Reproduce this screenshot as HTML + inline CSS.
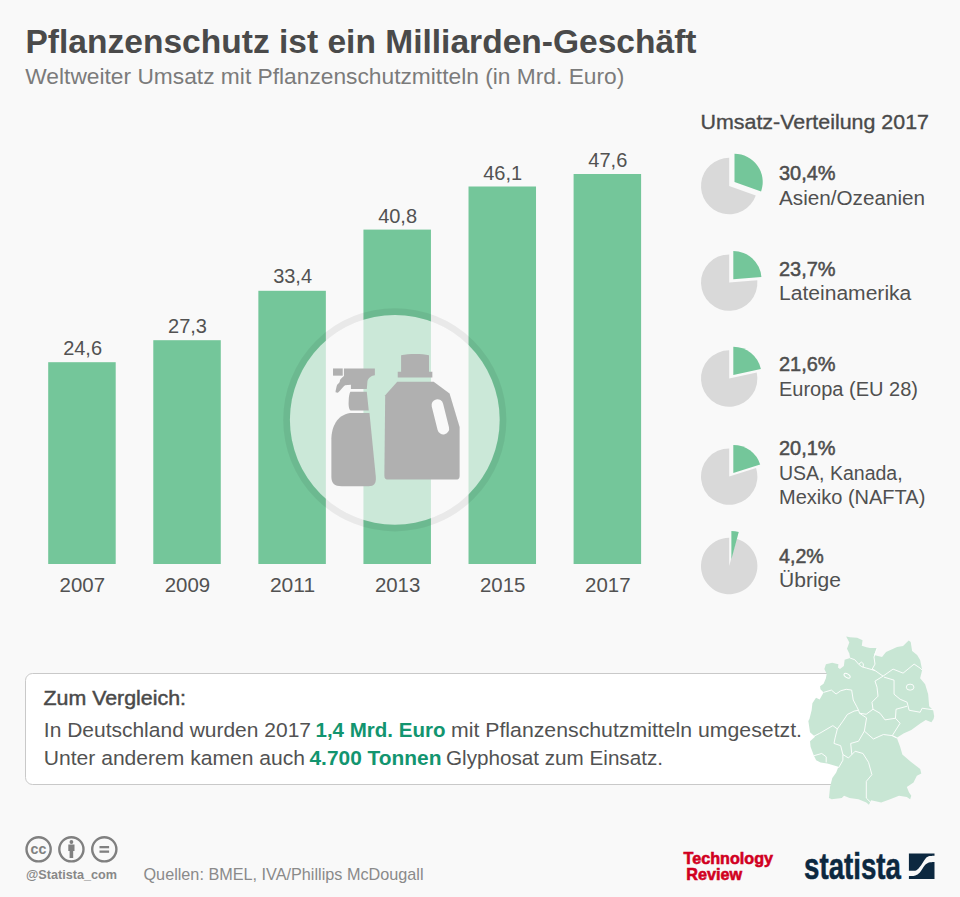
<!DOCTYPE html>
<html><head><meta charset="utf-8">
<style>
html,body{margin:0;padding:0;background:#f9f9f9;}
body{width:960px;height:897px;overflow:hidden;}
svg{display:block;font-family:"Liberation Sans",sans-serif;}
</style></head>
<body>
<svg width="960" height="897" viewBox="0 0 960 897">
<rect x="0" y="0" width="960" height="897" fill="#f9f9f9"/>
<text x="25.5" y="52.9" font-size="32.3" font-weight="bold" fill="#4a4a4a" textLength="671" lengthAdjust="spacingAndGlyphs">Pflanzenschutz ist ein Milliarden-Geschäft</text>
<text x="25.3" y="84" font-size="22.3" fill="#7b7b7b" textLength="599" lengthAdjust="spacingAndGlyphs">Weltweiter Umsatz mit Pflanzenschutzmitteln (in Mrd. Euro)</text>
<g fill="#74c69a">
<rect x="48.20" y="362.2" width="67.5" height="201.8"/>
<rect x="153.28" y="340.2" width="67.5" height="223.8"/>
<rect x="258.36" y="290.8" width="67.5" height="273.2"/>
<rect x="363.44" y="229.6" width="67.5" height="334.4"/>
<rect x="468.52" y="186.5" width="67.5" height="377.5"/>
<rect x="573.60" y="174" width="67.5" height="390.0"/>
</g>
<g font-size="20" fill="#525252" text-anchor="middle">
<text x="82.6" y="355">24,6</text>
<text x="187.5" y="333">27,3</text>
<text x="292.6" y="282.7">33,4</text>
<text x="397.6" y="222.7">40,8</text>
<text x="502.7" y="179.6">46,1</text>
<text x="607.8" y="166.8">47,6</text>
</g>
<g font-size="20" fill="#525252" text-anchor="middle">
<text x="82.3" y="592.3" textLength="45.4" lengthAdjust="spacingAndGlyphs">2007</text>
<text x="187.4" y="592.3" textLength="45.4" lengthAdjust="spacingAndGlyphs">2009</text>
<text x="292.5" y="592.3" textLength="45.2" lengthAdjust="spacingAndGlyphs">2011</text>
<text x="397.6" y="592.3" textLength="45.4" lengthAdjust="spacingAndGlyphs">2013</text>
<text x="502.7" y="592.3" textLength="45.4" lengthAdjust="spacingAndGlyphs">2015</text>
<text x="607.8" y="592.3" textLength="45.4" lengthAdjust="spacingAndGlyphs">2017</text>
</g>
<circle cx="394.8" cy="419.8" r="104.9" fill="rgba(249,249,249,0.66)"/>
<circle cx="394.8" cy="419.8" r="108.25" fill="none" stroke="rgba(0,0,0,0.062)" stroke-width="6.7"/>

<g transform="translate(325,345) scale(0.16722)" fill="#b0b0b0">
 <rect x="48" y="140.3" width="58" height="43"/>
 <path d="M113.2,140.3 L298.2,140.3 L298.2,181.3 C280,184 260,195 254,216 L250,263 L155,263 L155,238 L120,240 C105,250 98,265 77,285 L63,283 C64,270 66,262 70,245 L74,236 C80,232 86,226 88,220 C89,212 90,205 94,203 L106,191 L113.2,186 Z"/>
 <path d="M151.6,279.6 L249.9,279.6 L261.6,391.3 L153.2,391.3 C143,385 140,360 141.6,336 C142,310 146,290 151.6,279.6 Z"/>
 <path d="M150,406.3 L266,406.3 L304,790 C306,830 295,845 260,845 L100,845 C55,845 40,830 38,790 L38,560 C40,490 70,420 150,406.3 Z"/>
</g>
<mask id="jugmask" maskUnits="userSpaceOnUse" x="0" y="0" width="960" height="897">
 <rect x="0" y="0" width="960" height="897" fill="#fff"/>
 <g transform="translate(325,345) scale(0.16722)"><rect x="655" y="322" width="70" height="215" rx="35" ry="35" transform="rotate(-14 690 430)" fill="#000"/></g>
</mask>
<g transform="translate(325,345) scale(0.16722)" fill="#b0b0b0">
 <path d="M455,62 C500,52 580,52 622,62 L622,160 L642,160 L642,195 L435,195 L435,160 L455,160 Z"/>
</g>
<g mask="url(#jugmask)"><g transform="translate(325,345) scale(0.16722)" fill="#b0b0b0">
 <path d="M432,220 L650,220 L745,290 L805,490 L805,780 C805,800 798,805 780,805 L380,805 C362,805 355,798 355,780 L360,300 Z"/>
</g></g>

<text x="700.5" y="128.9" font-size="20.5" fill="#4a4a4a" stroke="#4a4a4a" stroke-width="0.35" textLength="228.5" lengthAdjust="spacingAndGlyphs">Umsatz-Verteilung 2017</text>
<g font-size="20" fill="#505050">
<text x="779" y="180.2" stroke="#4a4a4a" stroke-width="0.5" font-size="20.5" textLength="56.6" lengthAdjust="spacingAndGlyphs">30,4%</text>
<text x="779" y="204.5" textLength="146" lengthAdjust="spacingAndGlyphs">Asien/Ozeanien</text>
<text x="779" y="275.8" stroke="#4a4a4a" stroke-width="0.5" font-size="20.5" textLength="56.6" lengthAdjust="spacingAndGlyphs">23,7%</text>
<text x="779" y="299.7" textLength="132.3" lengthAdjust="spacingAndGlyphs">Lateinamerika</text>
<text x="779" y="370.7" stroke="#4a4a4a" stroke-width="0.5" font-size="20.5" textLength="56.6" lengthAdjust="spacingAndGlyphs">21,6%</text>
<text x="779" y="395.5">Europa (EU 28)</text>
<text x="779" y="455.4" stroke="#4a4a4a" stroke-width="0.5" font-size="20.5" textLength="56.6" lengthAdjust="spacingAndGlyphs">20,1%</text>
<text x="779" y="479.5" textLength="123.6" lengthAdjust="spacingAndGlyphs">USA, Kanada,</text>
<text x="779" y="503.5">Mexiko (NAFTA)</text>
<text x="779" y="563" stroke="#4a4a4a" stroke-width="0.5" font-size="20.5" textLength="44.8" lengthAdjust="spacingAndGlyphs">4,2%</text>
<text x="779" y="586.5" textLength="62" lengthAdjust="spacingAndGlyphs">Übrige</text>
</g>
<path d="M729.2,186 L755.79,195.39 A28.2,28.2 0 1 1 729.2,157.8 Z" fill="#d9d9d9"/>
<path d="M734.50,182.00 L734.50,153.80 A28.2,28.2 0 0 1 761.09,191.39 Z" fill="#74c69a"/>
<path d="M729.2,282.6 L757.31,280.30 A28.2,28.2 0 1 1 729.2,254.40000000000003 Z" fill="#d9d9d9"/>
<path d="M733.30,279.20 L733.30,251.00 A28.2,28.2 0 0 1 761.41,276.90 Z" fill="#74c69a"/>
<path d="M729.2,378.5 L756.76,372.52 A28.2,28.2 0 1 1 729.2,350.3 Z" fill="#d9d9d9"/>
<path d="M733.30,375.00 L733.30,346.80 A28.2,28.2 0 0 1 760.86,369.02 Z" fill="#74c69a"/>
<path d="M729.2,476.6 L756.07,468.05 A28.2,28.2 0 1 1 729.2,448.40000000000003 Z" fill="#d9d9d9"/>
<path d="M733.30,473.10 L733.30,444.90 A28.2,28.2 0 0 1 760.17,464.55 Z" fill="#74c69a"/>
<path d="M729.2,566 L736.56,538.78 A28.2,28.2 0 1 1 729.2,537.8 Z" fill="#d9d9d9"/>
<path d="M731.40,559.30 L731.40,531.10 A28.2,28.2 0 0 1 738.76,532.08 Z" fill="#74c69a"/>
<rect x="25.5" y="673.5" width="860" height="111" rx="7" ry="7" fill="#ffffff" stroke="#c9c9c9" stroke-width="1"/>
<text x="43.5" y="705.3" font-size="19.5" fill="#4a4a4a" stroke="#4a4a4a" stroke-width="0.45" textLength="142.5" lengthAdjust="spacingAndGlyphs">Zum Vergleich:</text>
<g font-size="20.5" fill="#525252">
<text x="43.8" y="737" textLength="267.2" lengthAdjust="spacingAndGlyphs">In Deutschland wurden 2017</text>
<text x="315.5" y="737" fill="#12956f" font-weight="bold" font-size="21" textLength="130" lengthAdjust="spacingAndGlyphs">1,4 Mrd. Euro</text>
<text x="451" y="737" textLength="351" lengthAdjust="spacingAndGlyphs">mit Pflanzenschutzmitteln umgesetzt.</text>
<text x="43.8" y="765" textLength="261.2" lengthAdjust="spacingAndGlyphs">Unter anderem kamen auch</text>
<text x="309.5" y="765" fill="#12956f" font-weight="bold" font-size="21" textLength="132" lengthAdjust="spacingAndGlyphs">4.700 Tonnen</text>
<text x="446" y="765" textLength="217" lengthAdjust="spacingAndGlyphs">Glyphosat zum Einsatz.</text>
</g>

<g transform="translate(810,630) scale(0.2006)">
<path fill="#c8e6d4" d="M180.5,33 L200,36 L235,39 L262,50.5 L258,78 L281.6,85.6 L299,90 L334,90 L319,125 L359,135 L379,110 L434,85 L464,80 L479,65 L492,52 L502,60 L509,105 L534,125 L549,150 L559,200 L549,240 L574,270 L589,320 L594,380 L614,400 L619,430 L616,443.3 L604.9,460 L577.1,448.8 L549.3,465.5 L504.9,498.8 L466,515.5 L432.6,537.7 L449.3,582.2 L460.4,621 L499.3,654.4 L549.3,693.3 L554.9,715.5 L532.7,726.6 L516,760 L482.6,782.2 L493.8,810 L504.9,826.7 L499.3,843.4 L482.6,832.2 L443.7,826.7 L399.3,843.4 L354.8,860 L304.8,849 L293.7,871 L280.7,860 L241.8,843.4 L197.4,837.8 L169.6,826.7 L158.5,837.8 L108.5,843.4 L94.6,837.8 L100.1,782 L111.2,737.8 L130.7,710 L141.8,682 L86.2,665.5 L52.9,660 L30.7,649 L19.6,626.6 L2.9,582 L0.1,554.4 L25.1,532 L0.1,510 L-8.2,454 L-2.7,443.3 L8.4,398.8 L12,365 L30,338 L48.2,346 L67.7,311 L52.1,295.6 L50.2,280 L67.7,268 L79.3,241 L83.2,217.8 L71.6,194.5 L79.3,171 L110.5,163 L141.6,171 L139.6,186.7 L149.4,194.5 L168.8,179 L172.7,147.8 L200,140 L196,117 L184.4,93 L196,62 Z"/>
<g fill="none" stroke="#ffffff" stroke-width="4.5" stroke-linejoin="round">
<path d="M200,140 L223,148 L243,171 L258,183 L282,190 L324,202 L364,230"/>
<path d="M334,90 L319,135 L324,170 L310,195 L324,202"/>
<path d="M364,230 L414,195 L464,215 L519,170 L549,190 L559,200"/>
<path d="M364,230 L324,255 L334,285 L339,330 L309,360 L314,395"/>
<path d="M369,235 L419,250 L419,320 L449,345 L484,360 L494,400"/>
<path d="M494,400 L549,410 L559,390 L616,398"/>
<path d="M484,380 L429,395 L426,440 L449,465 L410,527 L432.6,537.7"/>
<path d="M314,395 L349,415 L374,448 L426,440"/>
<path d="M67.7,311 L106.6,299.5 L129.9,319 L153.2,303 L180.5,295.6 L207.7,299.5 L215.5,349 L232,380 L242,400"/>
<path d="M242,400 L247,415 L280,420 L314,395"/>
<path d="M242,400 L219.6,404.4 L186.3,421 L164,454.4 L136.3,493.3"/>
<path d="M2.9,537.7 L47.3,515.5 L114,476.6 L136.3,493.3"/>
<path d="M136.3,493.3 L125.1,537.7 L119.6,565.5 L152.9,576.6 L164,621"/>
<path d="M164,621 L164,649 L141.8,687.8"/>
<path d="M19.6,626.6 L58.5,615.5 L80.7,632.2 L80.7,660"/>
<path d="M164,621 L191.8,637.8 L208.5,621 L225.1,604.4 L264,615.5 L291.9,660 L308.5,721.1 L280.7,754.4 L280.7,837.8 L303,860"/>
<path d="M208.5,621 L202.9,565.5 L241.8,554.4 L271,504 L282,438 L247,415"/>
<path d="M271,504 L316,543.3 L366,521 L410.4,526.6 L432.6,537.7"/>
<path d="M243,171 L256,160 L266,168 L265,186"/>
<ellipse cx="499" cy="285" rx="19" ry="15"/>
<ellipse cx="185" cy="228" rx="17" ry="9" transform="rotate(30 185 228)"/>
</g>
</g>


<g fill="none" stroke="#808080" stroke-width="2.4">
<circle cx="38.6" cy="849.3" r="12.1"/>
<circle cx="71.4" cy="849.3" r="12.1"/>
<circle cx="104.3" cy="849.3" r="12.1"/>
</g>
<g fill="#808080">
<text x="38.4" y="854" font-size="14" font-weight="bold" text-anchor="middle" textLength="15.8" lengthAdjust="spacingAndGlyphs">cc</text>
<circle cx="71.4" cy="842" r="1.9"/>
<rect x="68.3" y="844.5" width="6.2" height="6.5"/>
<rect x="69.6" y="850" width="3.6" height="8"/>
<rect x="99.5" y="846" width="9.6" height="2.3"/>
<rect x="99.5" y="850.5" width="9.6" height="2.3"/>
</g>

<text x="26" y="879" font-size="12" font-weight="bold" fill="#888" textLength="91" lengthAdjust="spacingAndGlyphs">@Statista_com</text>
<text x="143.5" y="880" font-size="17" fill="#8a8a8a" textLength="280" lengthAdjust="spacingAndGlyphs">Quellen: BMEL, IVA/Phillips McDougall</text>
<g fill="#d1001f" stroke="#d1001f" stroke-width="0.6" font-weight="bold" font-size="16.6">
<text x="683.5" y="864" textLength="89.5" lengthAdjust="spacingAndGlyphs">Technology</text>
<text x="686.3" y="880" textLength="55.8" lengthAdjust="spacingAndGlyphs">Review</text>
</g>
<text x="804" y="878.6" font-size="37" font-weight="bold" fill="#0c2840" stroke="#0c2840" stroke-width="0.5" textLength="97" lengthAdjust="spacingAndGlyphs">statista</text>

<g transform="translate(908.9,853.4) scale(0.03793)" fill="#0c2840">
<path d="M0,0 L675,0 L675,65 C662.5,65.2 625.8,64.3 600,66 C574.2,67.7 548.3,61.8 520,75 C491.7,88.2 468.3,98.3 430,145 C391.7,191.7 328.3,305.0 290,355 C251.7,405.0 231.7,427.8 200,445 C168.3,462.2 133.3,455.5 100,458 C66.7,460.5 16.7,459.7 0,460 Z"/>
<path d="M0,675 L0,600 C13.3,599.7 51.7,600.5 80,598 C108.3,595.5 135.0,600.5 170,585 C205.0,569.5 248.3,550.0 290,505 C331.7,460.0 383.3,358.3 420,315 C456.7,271.7 480.0,258.8 510,245 C540.0,231.2 572.5,234.5 600,232 C627.5,229.5 662.5,230.3 675,230 L675,675 Z"/>
</g>

</svg>
</body></html>
